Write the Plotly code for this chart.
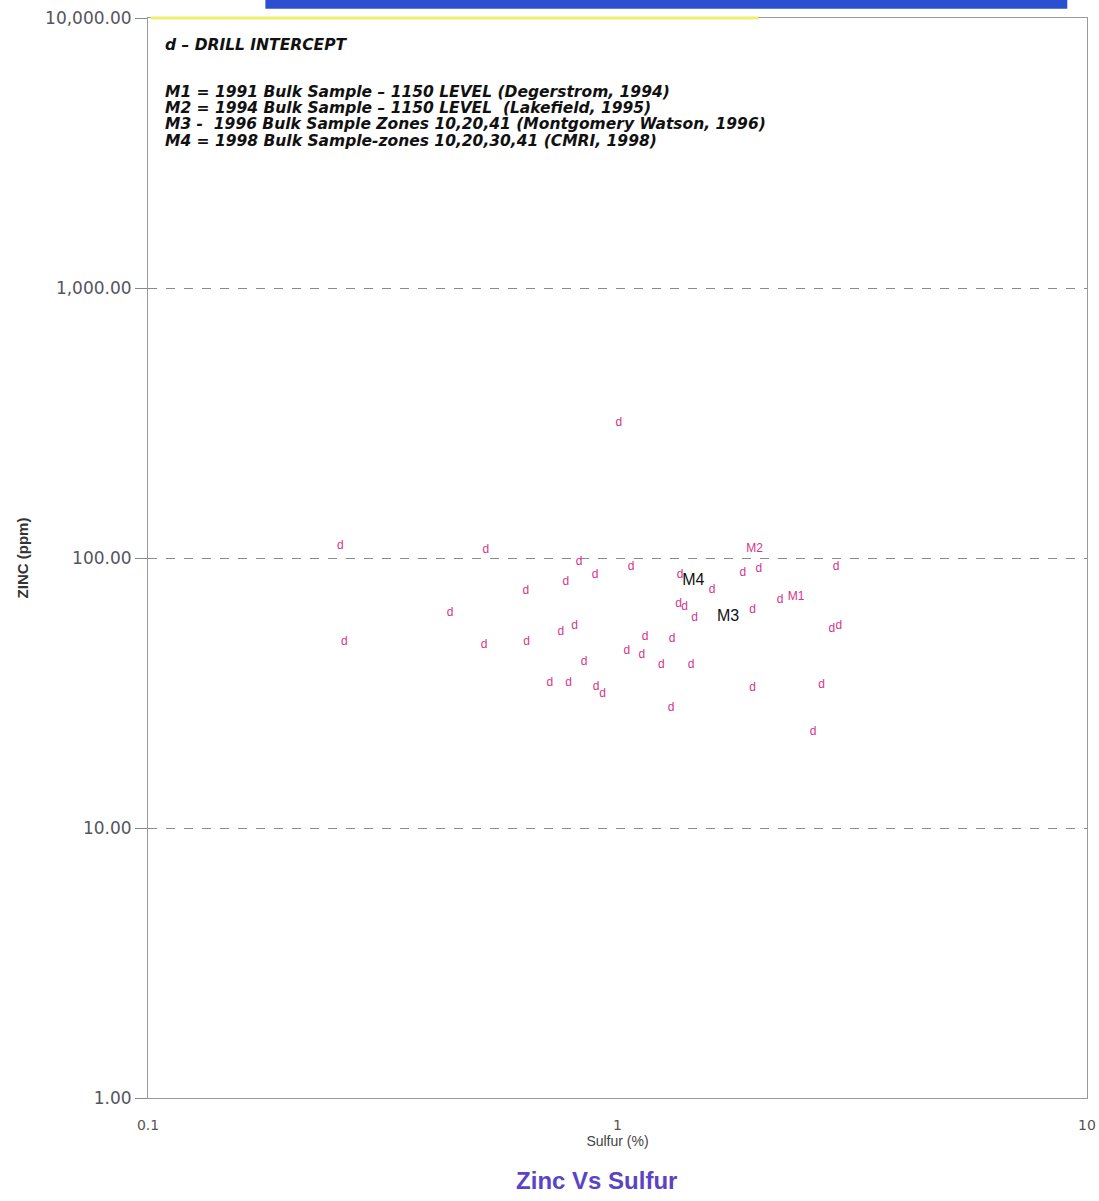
import plotly.graph_objects as go

# Drill intercept assays: sulfur (%) vs zinc (ppm)
sulfur_pct = [0.257, 0.262, 0.44, 0.524, 0.52, 0.638, 0.64, 0.718, 0.757, 0.776,
              0.787, 0.81, 0.828, 0.849, 0.896, 0.90, 0.93, 1.007, 1.047, 1.069,
              1.127, 1.145, 1.24, 1.307, 1.30, 1.35, 1.39, 1.435, 1.46, 1.59,
              1.85, 2.0, 1.94, 1.94, 2.22, 2.61, 2.72, 2.92, 2.86, 2.96, 1.36]
zinc_ppm = [111, 49, 62.5, 107, 47.6, 75.5, 49, 34.4, 53.2, 81.5,
            34.4, 56, 96.6, 41.2, 86.5, 33.3, 31.3, 316, 45.3, 92.7,
            43.8, 50.9, 40.2, 50, 27.8, 67.6, 66, 40.2, 60, 76,
            88, 91, 64, 33, 70, 22.7, 34, 92.7, 54.6, 56, 86.5]

# Bulk sample labels
sample_names = ["M1", "M2", "M3", "M4"]
sample_sulfur = [2.40, 1.96, 1.72, 1.45]
sample_zinc = [71.7, 108, 60.4, 82]
sample_colors = ["#d6338a", "#d6338a", "#111111", "#111111"]
sample_sizes = [12, 12, 16, 16]

# Axis ticks
y_tick_vals = [1, 10, 100, 1000, 10000]
y_tick_text = ["1.00", "10.00", "100.00", "1,000.00", "10,000.00"]
x_tick_vals = [0.1, 1, 10]
x_tick_text = ["0.1", "1", "10"]

legend_lines = [
    "d – DRILL INTERCEPT",
    "M1 = 1991 Bulk Sample – 1150 LEVEL (Degerstrom, 1994)",
    "M2 = 1994 Bulk Sample – 1150 LEVEL  (Lakefield, 1995)",
    "M3 -  1996 Bulk Sample Zones 10,20,41 (Montgomery Watson, 1996)",
    "M4 = 1998 Bulk Sample-zones 10,20,30,41 (CMRI, 1998)",
]

FONT = "Liberation Sans, Arial, sans-serif"
WIDE = "DejaVu Sans, Verdana, sans-serif"
PINK = "#d6338a"

fig = go.Figure()

fig.add_trace(go.Scatter(
    x=sulfur_pct, y=zinc_ppm, mode="text", text=["d"] * len(sulfur_pct),
    textposition="middle center",
    textfont=dict(family=FONT, size=12, color=PINK),
    hoverinfo="x+y", showlegend=False,
))

for name, sx, zy, col, sz in zip(sample_names, sample_sulfur, sample_zinc,
                                 sample_colors, sample_sizes):
    fig.add_trace(go.Scatter(
        x=[sx], y=[zy], mode="text", text=[name], textposition="middle center",
        textfont=dict(family=FONT, size=sz, color=col),
        showlegend=False, hoverinfo="skip",
    ))

# Legend block inside the plot
legend_y = [0.975, 0.9315, 0.9167, 0.9019, 0.8861]
for line, ly in zip(legend_lines, legend_y):
    fig.add_annotation(
        xref="paper", yref="paper", x=0.016, y=ly, xanchor="left", yanchor="middle",
        text="<b><i>" + line + "</i></b>", showarrow=False,
        font=dict(family=WIDE, size=15.5, color="#111111"),
    )

# Blue banner strip and highlighter at the top edge
fig.add_shape(type="rect", xref="paper", yref="paper", x0=0.125, x1=0.979,
              y0=1.0085, y1=1.02, fillcolor="#2a4fd0", line=dict(width=0), layer="above")
fig.add_shape(type="rect", xref="paper", yref="paper", x0=0.003, x1=0.65,
              y0=0.9985, y1=1.0015, fillcolor="#eeee70", line=dict(width=0), layer="above")

fig.update_layout(
    width=1099, height=1201,
    margin=dict(l=148, r=12, t=18, b=103),
    paper_bgcolor="white", plot_bgcolor="white",
    font=dict(family=FONT, color="#555555"),
    title=dict(text="<b>Zinc Vs Sulfur</b>", x=0.543, xanchor="center",
               y=0.017, yanchor="middle", yref="container",
               font=dict(family=FONT, size=24, color="#5b44c4")),
    xaxis=dict(
        type="log", range=[-1, 1], tickvals=x_tick_vals, ticktext=x_tick_text,
        ticks="", ticklabelstandoff=14, tickfont=dict(family=WIDE, size=14, color="#555555"),
        showgrid=False, zeroline=False, automargin=False,
        showline=True, mirror=True, linecolor="#9a9a9a", linewidth=1,
        title=dict(text="Sulfur (%)", standoff=4,
                   font=dict(family=FONT, size=14, color="#444444")),
    ),
    yaxis=dict(
        type="log", range=[0, 4], tickvals=y_tick_vals, ticktext=y_tick_text,
        ticks="outside", ticklen=12, tickcolor="#888888",
        tickfont=dict(family=WIDE, size=17, color="#555560"),
        showgrid=True, gridcolor="#8a8a8a", griddash="dash", gridwidth=1,
        zeroline=False, automargin=False,
        showline=True, mirror=True, linecolor="#9a9a9a", linewidth=1,
        title=dict(text="<b>ZINC (ppm)</b>", standoff=12,
                   font=dict(family=FONT, size=15, color="#333333")),
    ),
)

fig.write_html("out.html")
